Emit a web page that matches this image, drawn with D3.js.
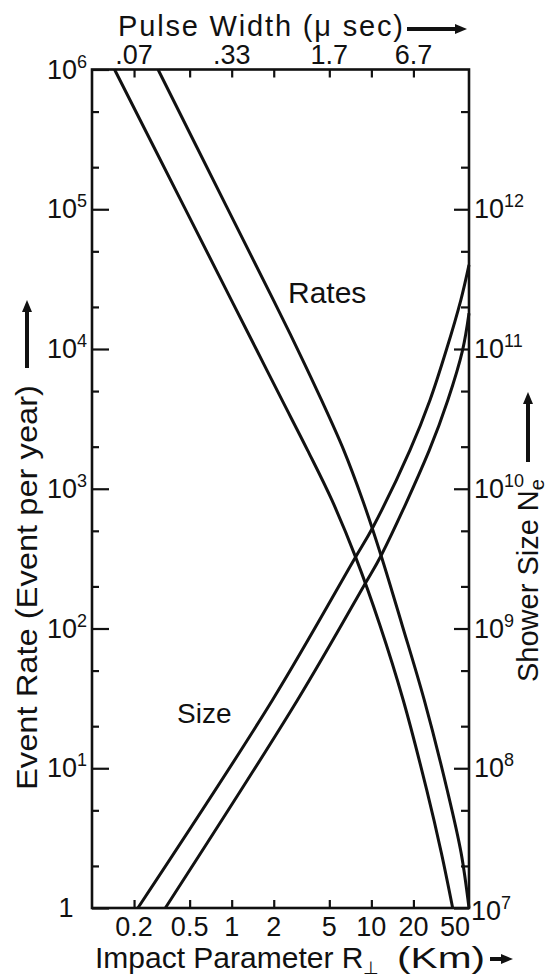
<!DOCTYPE html>
<html>
<head>
<meta charset="utf-8">
<script src="https://cdn.jsdelivr.net/npm/d3@7"></script>
<style>
body { margin: 0; background: #fff; }
svg text { font-family: "Liberation Sans", Arial, sans-serif; fill: #111; }
</style>
</head>
<body>
<div id="chart"></div>
<script>
// "Rates" curves: impact parameter R (km) against event rate (per year)
var rates_lo_r = [0.145, 0.457, 0.995, 1.51, 2.29, 3.49, 5.21, 7.75, 11.5, 16.9, 24.9, 31.7, 38.2];
var rates_lo_v = [1e6, 1.04e5, 2.24e4, 9.83e3, 4.32e3, 1.89e3, 831, 320, 106, 30.8, 6.99, 2.48, 1];
var rates_hi_r = [0.297, 0.921, 1.99, 2.98, 4.39, 6.34, 8.65, 11.7, 16.6, 23.9, 34.9, 43.9, 50];
var rates_hi_v = [1e6, 1.04e5, 2.24e4, 9.83e3, 4.32e3, 1.89e3, 831, 336, 106, 30.8, 6.99, 2.48, 1];

// "Size" curves: impact parameter R (km) against shower size Ne
var size_hi_r = [0.213, 1.96, 7.62, 10.3, 18.9, 26.3, 34.4, 43.7, 50];
var size_hi_n = [1e7, 3.08e8, 3.18e9, 5.35e9, 1.89e10, 4.32e10, 9.83e10, 2.24e11, 4.0e11];
var size_lo_r = [0.335, 2.96, 8.91, 11.8, 26.0, 35.3, 45.0, 50];
var size_lo_n = [1e7, 3.08e8, 2.05e9, 3.36e9, 1.89e10, 4.32e10, 9.83e10, 1.8e11];

// axis ticks and labels
var r_ticks = [0.2, 0.5, 1, 2, 5, 10, 20, 50];
var r_labels = ["0.2", "0.5", "1", "2", "5", "10", "20", "50"];
var pulse_at = [0.2, 1, 5, 20];
var pulse_labels = [".07", ".33", "1.7", "6.7"];
var rate_major = [1, 10, 100, 1e3, 1e4, 1e5, 1e6];
var rate_exp = ["", "1", "2", "3", "4", "5", "6"];
var ne_major = [1e7, 1e8, 1e9, 1e10, 1e11, 1e12];
var ne_exp = ["7", "8", "9", "10", "11", "12"];

var W = 552, H = 979;
var p_left = 92, p_right = 469, p_top = 69.5, p_bottom = 908;

var svg = d3.select("#chart").append("svg")
	.attr("width", W)
	.attr("height", H);

var x = d3.scaleLog().domain([0.1, 50]).range([p_left, p_right]);
var y = d3.scaleLog().domain([1, 1e6]).range([p_bottom, p_top]);
var yNe = d3.scaleLog().domain([1e7, 1e13]).range([p_bottom, p_top]);

// minor ticks at 2 and 5 of every decade
function minors(lo, hi) {
	var out = [];
	for (var d = lo; d < hi; d *= 10) { out.push(2 * d); out.push(5 * d); }
	return out;
}

function tickAxis(axis, tx, ty) {
	var g = svg.append("g").attr("transform", "translate(" + tx + "," + ty + ")").call(axis);
	g.select(".domain").remove();
	g.selectAll("line").attr("stroke", "#111").attr("stroke-width", 2.2);
	return g;
}

// ticks point into the frame
tickAxis(d3.axisLeft(y).tickValues(rate_major).tickSize(-17).tickFormat(""), p_left, 0);
tickAxis(d3.axisLeft(y).tickValues(minors(1, 1e6)).tickSize(-7).tickFormat(""), p_left, 0);
tickAxis(d3.axisRight(yNe).tickValues(ne_major).tickSize(-15).tickFormat(""), p_right, 0);
tickAxis(d3.axisRight(yNe).tickValues(minors(1e7, 1e13)).tickSize(-8).tickFormat(""), p_right, 0);
tickAxis(d3.axisBottom(x).tickValues(r_ticks.slice(0, 7)).tickSize(-8).tickFormat(""), 0, p_bottom);
tickAxis(d3.axisTop(x).tickValues(r_ticks.slice(0, 7)).tickSize(-8).tickFormat(""), 0, p_top);

// frame
svg.append("rect")
	.attr("x", p_left).attr("y", p_top)
	.attr("width", p_right - p_left).attr("height", p_bottom - p_top)
	.attr("fill", "none").attr("stroke", "#111").attr("stroke-width", 2.6);

// curves
var line = d3.line().curve(d3.curveCatmullRom.alpha(0.5));
function drawCurve(rs, vs, sc) {
	var pts = rs.map(function(r, i) { return [x(r), sc(vs[i])]; });
	svg.append("path")
		.attr("d", line(pts))
		.attr("fill", "none")
		.attr("stroke", "#111")
		.attr("stroke-width", 3);
}
drawCurve(rates_lo_r, rates_lo_v, y);
drawCurve(rates_hi_r, rates_hi_v, y);
drawCurve(size_hi_r, size_hi_n, yNe);
drawCurve(size_lo_r, size_lo_n, yNe);

// power-of-ten label, "10" with raised exponent
function powLabel(px, py, exp, anchor) {
	var t = svg.append("text")
		.attr("x", px).attr("y", py + 9)
		.attr("text-anchor", anchor)
		.style("font-size", "27px");
	if (exp === "") { t.attr("x", 66).attr("text-anchor", "middle").text("1"); return; }
	t.append("tspan").text("10");
	t.append("tspan").attr("dy", -11).style("font-size", "18px").text(exp);
}

rate_major.forEach(function(v, i) { powLabel(p_left - 5, y(v), rate_exp[i], "end"); });
ne_major.forEach(function(v, i) {
	var px = (i == 0) ? p_right + 2 : p_right + 5;
	powLabel(px, yNe(v) + (i == 0 ? 3 : 0), ne_exp[i], "start");
});

// bottom tick labels
r_ticks.forEach(function(v, i) {
	var px = x(v);
	if (v == 50) px -= 14;
	svg.append("text")
		.attr("x", px).attr("y", 936)
		.attr("text-anchor", "middle")
		.style("font-size", "27px")
		.text(r_labels[i]);
});

// top: pulse width labels
pulse_at.forEach(function(v, i) {
	svg.append("text")
		.attr("x", x(v)).attr("y", 64)
		.attr("text-anchor", "middle")
		.style("font-size", "27px")
		.text(pulse_labels[i]);
});

function arrow(x1, y1, x2, y2) {
	var a = Math.atan2(y2 - y1, x2 - x1);
	var hl = 12, hw = 5;
	var bx = x2 - hl * Math.cos(a), by = y2 - hl * Math.sin(a);
	svg.append("line")
		.attr("x1", x1).attr("y1", y1).attr("x2", bx).attr("y2", by)
		.attr("stroke", "#111").attr("stroke-width", 4);
	svg.append("path")
		.attr("d", "M" + x2 + "," + y2 +
			"L" + (bx + hw * Math.sin(a)) + "," + (by - hw * Math.cos(a)) +
			"L" + (bx - hw * Math.sin(a)) + "," + (by + hw * Math.cos(a)) + "Z")
		.attr("fill", "#111");
}

// axis titles
svg.append("text")
	.attr("x", 118).attr("y", 36)
	.attr("textLength", 285).attr("lengthAdjust", "spacing")
	.style("font-size", "29px")
	.text("Pulse Width (\u03bc sec)");
arrow(407, 29, 467, 29);

var bt = svg.append("text")
	.attr("x", 95).attr("y", 968)
	.style("font-size", "30px");
bt.append("tspan").text("Impact Parameter R");
bt.append("tspan").attr("dy", 6).style("font-size", "18px").text("\u22a5");
svg.append("text")
	.attr("x", 397).attr("y", 968)
	.attr("textLength", 88).attr("lengthAdjust", "spacingAndGlyphs")
	.style("font-size", "30px")
	.text("(Km)");
arrow(490, 959, 513, 959);

svg.append("text")
	.attr("transform", "translate(37,790) rotate(-90)")
	.attr("textLength", 405).attr("lengthAdjust", "spacingAndGlyphs")
	.style("font-size", "29px")
	.text("Event Rate (Event per year)");
arrow(27, 368, 27, 300);

var rt = svg.append("text")
	.attr("transform", "translate(538,682) rotate(-90)")
	.style("font-size", "29px");
rt.append("tspan").text("Shower Size N");
rt.append("tspan").attr("dy", 6).style("font-size", "20px").text("e");
arrow(528, 462, 528, 392);

// curve labels
svg.append("text").attr("x", 288).attr("y", 303).style("font-size", "30px").text("Rates");
svg.append("text").attr("x", 177).attr("y", 723).style("font-size", "28px").text("Size");
</script>
</body>
</html>
